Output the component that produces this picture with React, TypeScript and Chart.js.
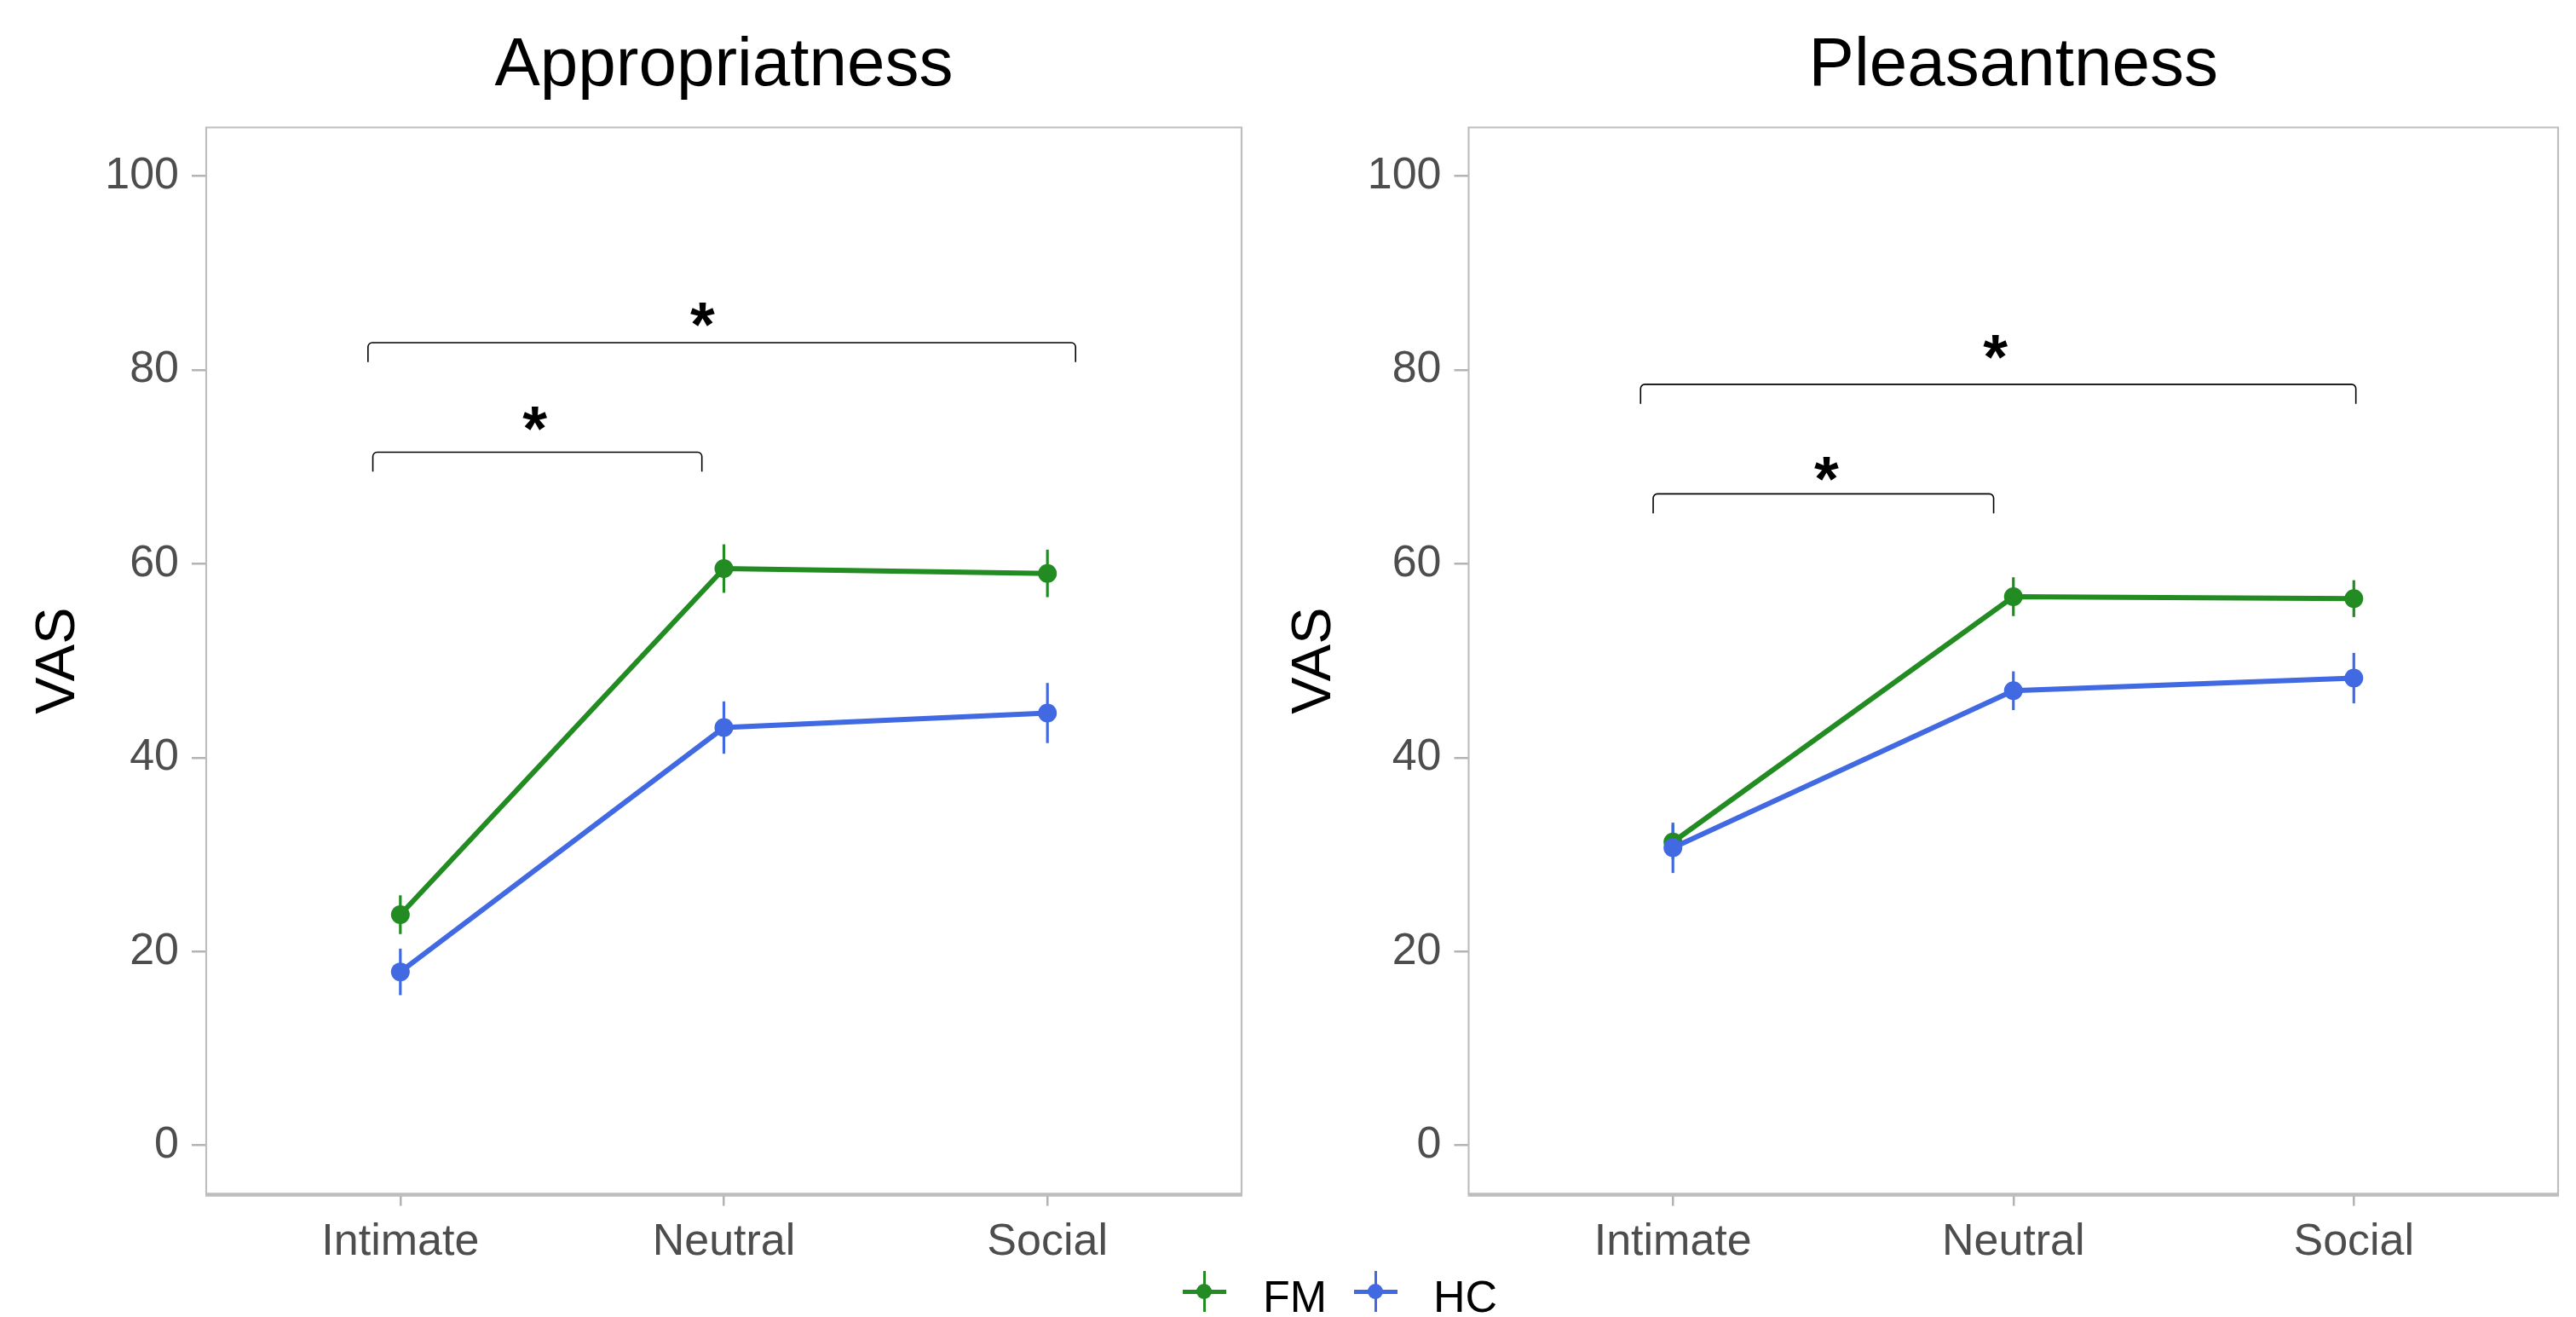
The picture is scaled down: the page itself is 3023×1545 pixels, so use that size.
import React, { useEffect, useRef } from "react";
import { Chart, registerables } from "chart.js";

Chart.register(...registerables);

const FONT = "'Liberation Sans', Arial, sans-serif";

const categories = ["Intimate", "Neutral", "Social"];
const categoryPositions = [1, 2, 3];
const yTickValues = [0, 20, 40, 60, 80, 100];
const panelTitles = ["Appropriatness", "Pleasantness"];
const seriesNames = ["FM", "HC"];
const seriesColors = ["#228B22", "#4169E1"];
const yAxisTitle = "VAS";

// Appropriateness panel
const apprFM = [23.8, 59.5, 59.0];
const apprFMErr = [2.0, 2.5, 2.45];
const apprHC = [17.9, 43.1, 44.6];
const apprHCErr = [2.4, 2.7, 3.1];

// Pleasantness panel
const pleasFM = [31.3, 56.6, 56.4];
const pleasFMErr = [1.8, 2.0, 1.9];
const pleasHC = [30.7, 46.9, 48.2];
const pleasHCErr = [2.6, 2.0, 2.6];

// significance brackets (x in category units, y in VAS units)
const apprBracketStart = [0.915, 0.9];
const apprBracketEnd = [1.932, 3.087];
const apprBracketY = [71.5, 82.8];
const apprStarX = [1.416, 1.934];
const apprStarY = [75.0, 85.7];

const pleasBracketStart = [0.942, 0.905];
const pleasBracketEnd = [1.942, 3.006];
const pleasBracketY = [67.2, 78.5];
const pleasStarX = [1.451, 1.947];
const pleasStarY = [69.8, 82.4];

const bracketLeg = 2;
const starLabel = "*";

type PanelSpec = {
  title: string;
  fm: number[];
  fmErr: number[];
  hc: number[];
  hcErr: number[];
  bStart: number[];
  bEnd: number[];
  bY: number[];
  sX: number[];
  sY: number[];
  yAxisWidth: number;
  padRight: number;
  yTitlePad: number;
};

function decorPlugin(spec: PanelSpec) {
  return {
    id: "panelDecor",
    beforeDatasetsDraw(chart: any) {
      const { ctx, scales } = chart;
      const x = scales.x;
      const y = scales.y;
      ctx.save();
      ctx.lineWidth = 3.2;
      ctx.lineCap = "butt";
      const groups: [number[], number[], string][] = [
        [spec.fm, spec.fmErr, seriesColors[0]],
        [spec.hc, spec.hcErr, seriesColors[1]],
      ];
      groups.forEach(([vals, errs, col]) => {
        ctx.strokeStyle = col;
        vals.forEach((v, i) => {
          const px = x.getPixelForValue(categoryPositions[i]);
          ctx.beginPath();
          ctx.moveTo(px, y.getPixelForValue(v - errs[i]));
          ctx.lineTo(px, y.getPixelForValue(v + errs[i]));
          ctx.stroke();
        });
      });
      ctx.restore();
    },
    afterDraw(chart: any) {
      const { ctx, chartArea: a, scales } = chart;
      const x = scales.x;
      const y = scales.y;
      ctx.save();
      // brackets
      ctx.strokeStyle = "#000";
      ctx.lineWidth = 1.6;
      spec.bStart.forEach((s, i) => {
        const x1 = x.getPixelForValue(s);
        const x2 = x.getPixelForValue(spec.bEnd[i]);
        const yt = y.getPixelForValue(spec.bY[i]);
        const yl = y.getPixelForValue(spec.bY[i] - bracketLeg);
        ctx.beginPath();
        ctx.moveTo(x1, yl);
        ctx.arcTo(x1, yt, x2, yt, 5);
        ctx.arcTo(x2, yt, x2, yl, 5);
        ctx.lineTo(x2, yl);
        ctx.stroke();
      });
      // stars
      ctx.fillStyle = "#000";
      ctx.font = `bold 74px ${FONT}`;
      ctx.textAlign = "center";
      ctx.textBaseline = "alphabetic";
      spec.sX.forEach((sx, i) => {
        const px = x.getPixelForValue(sx);
        const py = y.getPixelForValue(spec.sY[i]);
        const m = ctx.measureText(starLabel);
        const asc = m.actualBoundingBoxAscent;
        const desc = m.actualBoundingBoxDescent;
        ctx.fillText(starLabel, px, py + (asc - desc) / 2);
      });
      // panel border
      ctx.strokeStyle = "#BEBEBE";
      ctx.lineWidth = 2.2;
      ctx.beginPath();
      ctx.moveTo(a.left, a.bottom);
      ctx.lineTo(a.left, a.top);
      ctx.lineTo(a.right, a.top);
      ctx.lineTo(a.right, a.bottom);
      ctx.stroke();
      ctx.lineWidth = 4.5;
      ctx.strokeStyle = "#BDBDBD";
      ctx.beginPath();
      ctx.moveTo(a.left - 1, a.bottom + 1);
      ctx.lineTo(a.right + 1, a.bottom + 1);
      ctx.stroke();
      ctx.restore();
    },
  };
}

function makeConfig(spec: PanelSpec): any {
  const toPts = (vals: number[]) => vals.map((v, i) => ({ x: categoryPositions[i], y: v }));
  return {
    type: "line",
    data: {
      datasets: [
        {
          label: seriesNames[0],
          data: toPts(spec.fm),
          borderColor: seriesColors[0],
          backgroundColor: seriesColors[0],
          pointBackgroundColor: seriesColors[0],
          pointBorderWidth: 0,
          pointRadius: 11,
          borderWidth: 6,
          tension: 0,
          order: 1,
        },
        {
          label: seriesNames[1],
          data: toPts(spec.hc),
          borderColor: seriesColors[1],
          backgroundColor: seriesColors[1],
          pointBackgroundColor: seriesColors[1],
          pointBorderWidth: 0,
          pointRadius: 11,
          borderWidth: 6,
          tension: 0,
          order: 0,
        },
      ],
    },
    options: {
      animation: false,
      responsive: false,
      layout: { padding: { left: 0, right: spec.padRight, top: 0, bottom: 0 } },
      plugins: {
        legend: { display: false },
        tooltip: { enabled: false },
        title: {
          display: true,
          text: spec.title,
          fullSize: false,
          color: "#000",
          font: { size: 80, family: FONT, weight: "normal", lineHeight: 1.2 },
          padding: { top: 30, bottom: 23.5 },
        },
      },
      scales: {
        x: {
          type: "linear",
          min: 0.4,
          max: 3.6,
          afterBuildTicks: (s: any) => {
            s.ticks = categoryPositions.map((v) => ({ value: v }));
          },
          afterFit: (s: any) => {
            s.height = 144.4;
          },
          ticks: {
            autoSkip: false,
            maxRotation: 0,
            color: "#4D4D4D",
            font: { size: 52, family: FONT },
            padding: 12,
            callback: (v: any) => categories[Math.round(v) - 1] ?? "",
          },
          grid: {
            display: true,
            drawOnChartArea: false,
            drawTicks: true,
            tickLength: 14,
            color: "#B3B3B3",
            lineWidth: 2.5,
          },
          border: { display: false },
        },
        y: {
          type: "linear",
          min: -5,
          max: 105,
          afterBuildTicks: (s: any) => {
            s.ticks = yTickValues.map((v) => ({ value: v }));
          },
          afterFit: (s: any) => {
            s.width = spec.yAxisWidth;
          },
          ticks: {
            color: "#4D4D4D",
            font: { size: 52, family: FONT },
            padding: 15,
            callback: (v: any) => String(v),
          },
          grid: {
            display: true,
            drawOnChartArea: false,
            drawTicks: true,
            tickLength: 17,
            color: "#B3B3B3",
            lineWidth: 2.5,
          },
          border: { display: false },
          title: {
            display: true,
            text: yAxisTitle,
            color: "#000",
            font: { size: 65, family: FONT, lineHeight: 1.2 },
            padding: { top: spec.yTitlePad, bottom: 0 },
          },
        },
      },
    },
    plugins: [decorPlugin(spec)],
  };
}

function Panel({ spec, left, width }: { spec: PanelSpec; left: number; width: number }) {
  const ref = useRef<HTMLCanvasElement | null>(null);
  useEffect(() => {
    if (!ref.current) return;
    const chart = new Chart(ref.current, makeConfig(spec));
    return () => chart.destroy();
  }, []);
  return (
    <canvas
      ref={ref}
      width={width}
      height={1545}
      style={{ position: "absolute", left, top: 0, width, height: 1545 }}
    />
  );
}

function LegendItem({ cx, textLeft, color, label }: { cx: number; textLeft: number; color: string; label: string }) {
  const cy = 1515;
  return (
    <>
      <div style={{ position: "absolute", left: cx - 25, top: cy - 2.5, width: 51, height: 5, background: color }} />
      <div style={{ position: "absolute", left: cx - 1.5, top: cy - 24, width: 3, height: 48, background: color }} />
      <div style={{ position: "absolute", left: cx - 9, top: cy - 9, width: 18, height: 18, borderRadius: 9, background: color }} />
      <div
        style={{
          position: "absolute",
          left: textLeft,
          top: 1495,
          fontFamily: FONT,
          fontSize: 52,
          lineHeight: "52px",
          color: "#000",
          whiteSpace: "nowrap",
        }}
      >
        {label}
      </div>
    </>
  );
}

const leftSpec: PanelSpec = {
  title: panelTitles[0],
  fm: apprFM,
  fmErr: apprFMErr,
  hc: apprHC,
  hcErr: apprHCErr,
  bStart: apprBracketStart,
  bEnd: apprBracketEnd,
  bY: apprBracketY,
  sX: apprStarX,
  sY: apprStarY,
  yAxisWidth: 242,
  padRight: 43,
  yTitlePad: 30,
};

const rightSpec: PanelSpec = {
  title: panelTitles[1],
  fm: pleasFM,
  fmErr: pleasFMErr,
  hc: pleasHC,
  hcErr: pleasHCErr,
  bStart: pleasBracketStart,
  bEnd: pleasBracketEnd,
  bY: pleasBracketY,
  sX: pleasStarX,
  sY: pleasStarY,
  yAxisWidth: 223.5,
  padRight: 21,
  yTitlePad: 3.6,
};

export default function App() {
  return (
    <div style={{ position: "absolute", left: 0, top: 0, width: 3023, height: 1545, background: "#fff", overflow: "hidden" }}>
      <Panel spec={leftSpec} left={0} width={1500} />
      <Panel spec={rightSpec} left={1500} width={1523} />
      <LegendItem cx={1413} textLeft={1482} color={seriesColors[0]} label={seriesNames[0]} />
      <LegendItem cx={1614} textLeft={1682} color={seriesColors[1]} label={seriesNames[1]} />
    </div>
  );
}
